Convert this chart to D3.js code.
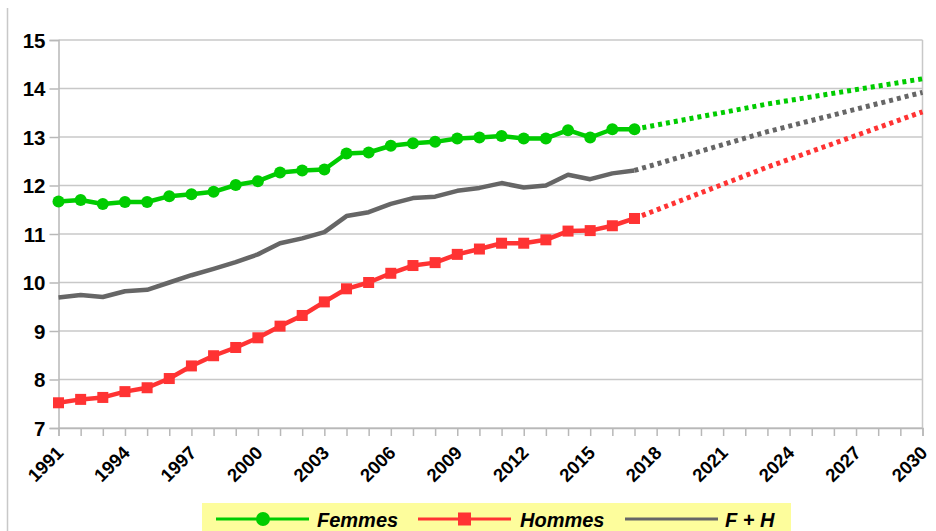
<!DOCTYPE html>
<html lang="fr">
<head>
<meta charset="utf-8">
<title>Femmes / Hommes 1991-2030</title>
<script src="https://d3js.org/d3.v7.min.js"></script>
<style>
  body { margin: 0; background: #fff; }
  svg text { font-family: "Liberation Sans", Arial, sans-serif; font-weight: bold; fill: #000; }
</style>
</head>
<body>
<script>
// observed years
var years = d3.range(1991, 2018);
var femmes = [11.67, 11.70, 11.62, 11.66, 11.66, 11.78, 11.82, 11.87, 12.01, 12.09,
              12.27, 12.31, 12.33, 12.66, 12.68, 12.82, 12.87, 12.90, 12.97, 12.99,
              13.02, 12.97, 12.97, 13.14, 12.99, 13.16, 13.16];
var hommes = [7.52, 7.59, 7.63, 7.75, 7.83, 8.02, 8.28, 8.49, 8.66, 8.86,
              9.10, 9.32, 9.60, 9.87, 10.00, 10.19, 10.35, 10.41, 10.58, 10.69,
              10.81, 10.81, 10.88, 11.06, 11.07, 11.17, 11.32];
var ensemble = [9.69, 9.74, 9.70, 9.82, 9.85, 10.00, 10.15, 10.28, 10.42, 10.58,
                10.81, 10.91, 11.04, 11.37, 11.45, 11.62, 11.74, 11.77, 11.89, 11.95,
                12.05, 11.96, 12.00, 12.22, 12.13, 12.25, 12.31];

// projections (dotted)
var projYears = [2017, 2023, 2030];
var femmesProj = [13.16, 13.68, 14.20];
var hommesProj = [11.32, 12.38, 13.52];
var ensembleProj = [12.31, 13.11, 13.92];

var yTicks = [7, 8, 9, 10, 11, 12, 13, 14, 15];
var xLabels = d3.range(1991, 2031, 3);
var names = ["Femmes", "Hommes", "F + H"];
var colors = ["#00cc00", "#ff3333", "#666666"];

var w = 936, h = 531;
var svg = d3.select("body").append("svg").attr("width", w).attr("height", h);

var x = d3.scaleLinear().domain([1991, 2030]).range([58.5, 922.5]);
var y = d3.scaleLinear().domain([7, 15]).range([428, 40]);

// outer frame, left side
svg.append("line").attr("x1", 7.5).attr("x2", 7.5).attr("y1", 8).attr("y2", h)
  .attr("stroke", "#c8c8c8").attr("stroke-width", 1.5);

// horizontal grid
svg.append("g").selectAll("line").data(yTicks).enter().append("line")
  .attr("x1", x(1991)).attr("x2", x(2030))
  .attr("y1", function (d) { return y(d); }).attr("y2", function (d) { return y(d); })
  .attr("stroke", "#c8c8c8").attr("stroke-width", 1.5);

// right border
svg.append("line").attr("x1", x(2030)).attr("x2", x(2030)).attr("y1", y(15)).attr("y2", y(7))
  .attr("stroke", "#c8c8c8").attr("stroke-width", 1.5);

// y axis
var yAxis = d3.axisLeft(y).tickValues(yTicks).tickSize(9).tickPadding(4).tickFormat(d3.format("d"));
var gy = svg.append("g").attr("transform", "translate(" + x(1991) + ",0)").call(yAxis);
gy.select(".domain").attr("stroke", "#b8b8b8").attr("stroke-width", 1.5);
gy.selectAll(".tick line").attr("stroke", "#b8b8b8").attr("stroke-width", 1.5);
gy.selectAll("text").style("font-size", "20.5px").attr("dy", "0.36em");

// x axis
var xAxis = d3.axisBottom(x).tickValues(d3.range(1991, 2031)).tickSize(8).tickFormat("");
var gx = svg.append("g").attr("transform", "translate(0," + y(7) + ")").call(xAxis);
gx.select(".domain").attr("stroke", "#b8b8b8").attr("stroke-width", 1.5);
gx.selectAll(".tick line").attr("stroke", "#b8b8b8").attr("stroke-width", 1.5);

svg.append("g").selectAll("text").data(xLabels).enter().append("text")
  .style("font-size", "18.5px")
  .attr("text-anchor", "end")
  .attr("transform", function (d) { return "translate(" + (x(d) + 6) + "," + (y(7) + 26) + ") rotate(-45)"; })
  .text(function (d) { return d; });

var line = d3.line().x(function (d) { return x(d[0]); }).y(function (d) { return y(d[1]); });

function series(vals) {
  return years.map(function (yr, k) { return [yr, vals[k]]; });
}
function proj(vals) {
  return projYears.map(function (yr, k) { return [yr, vals[k]]; });
}

var obs = [series(femmes), series(hommes), series(ensemble)];
var prj = [proj(femmesProj), proj(hommesProj), proj(ensembleProj)];

// projections first
prj.forEach(function (p, i) {
  svg.append("path").datum(p).attr("d", line)
    .attr("fill", "none").attr("stroke", colors[i]).attr("stroke-width", 5)
    .attr("stroke-dasharray", "4,4");
});

// gray line, then red, then green on top
[2, 1, 0].forEach(function (i) {
  svg.append("path").datum(obs[i]).attr("d", line)
    .attr("fill", "none").attr("stroke", colors[i]).attr("stroke-width", 4.5)
    .attr("stroke-linejoin", "round");
});

svg.append("g").selectAll("rect").data(obs[1]).enter().append("rect")
  .attr("x", function (d) { return x(d[0]) - 5.5; })
  .attr("y", function (d) { return y(d[1]) - 5.5; })
  .attr("width", 11).attr("height", 11)
  .attr("fill", colors[1]);

svg.append("g").selectAll("circle").data(obs[0]).enter().append("circle")
  .attr("cx", function (d) { return x(d[0]); })
  .attr("cy", function (d) { return y(d[1]); })
  .attr("r", 6)
  .attr("fill", colors[0]);

// legend
var leg = svg.append("g");
leg.append("rect").attr("x", 202).attr("y", 503).attr("width", 589).attr("height", 30).attr("fill", "#fdfd9c");
var legX = [216, 418, 625];
var textX = [317, 520, 725];
names.forEach(function (n, i) {
  leg.append("line").attr("x1", legX[i]).attr("x2", legX[i] + 93).attr("y1", 519).attr("y2", 519)
    .attr("stroke", colors[i]).attr("stroke-width", 3);
  if (i === 0) {
    leg.append("circle").attr("cx", legX[i] + 47).attr("cy", 519).attr("r", 7).attr("fill", colors[i]);
  } else if (i === 1) {
    leg.append("rect").attr("x", legX[i] + 40).attr("y", 512.5).attr("width", 13).attr("height", 13).attr("fill", colors[i]);
  }
  leg.append("text").attr("x", textX[i]).attr("y", 527).style("font-size", "20px")
    .attr("font-style", "italic").text(n);
});
</script>
</body>
</html>
